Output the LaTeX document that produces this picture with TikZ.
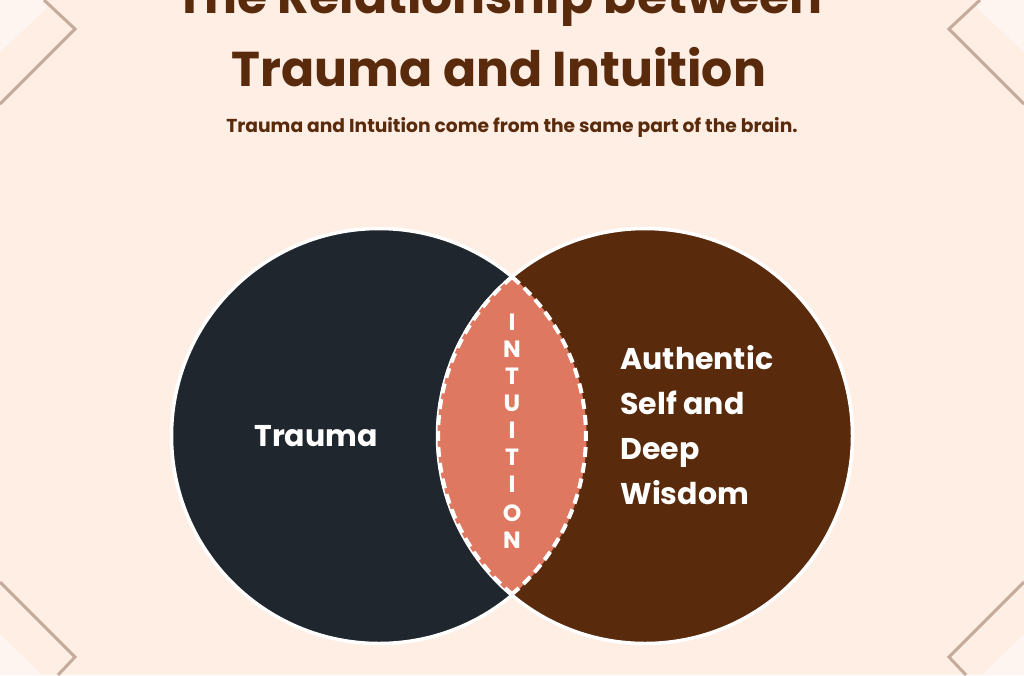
\documentclass[tikz,border=0pt]{standalone}
\usepackage{fontspec}
\setmainfont{Poppins}
\usetikzlibrary{calc}
\definecolor{pagebg}{HTML}{FFEEE4}
\definecolor{cornerline}{HTML}{C4AB9C}
\definecolor{cornerfill}{HTML}{FFF5F0}
\definecolor{traumacol}{HTML}{1F262E}
\definecolor{selfcol}{HTML}{592A0C}
\definecolor{lenscol}{HTML}{DF7861}
\tikzset{
	bigcircle/.style={circle,draw=white,line width=3.5pt,minimum size=415pt,inner sep=0pt},
	titletext/.style={text=selfcol,font=\bfseries\fontsize{48.9}{73}\selectfont,align=center},
	subtext/.style={text=selfcol,font=\bfseries\fontsize{18.7}{22}\selectfont},
	circletext/.style={text=white,font=\bfseries\fontsize{30}{45}\selectfont,align=left},
	lensletter/.style={text=white,font=\bfseries\fontsize{23.5}{24}\selectfont,inner sep=0pt},
	cornerstroke/.style={draw=cornerline,line width=3pt,miter limit=10},
	lensdash/.style={white,line width=4pt,dash pattern=on 10pt off 6pt},
}
\begin{document}
\begin{tikzpicture}[x=1pt,y=-1pt]
		\useasboundingbox (0,0) rectangle (1024,675);
		\fill[pagebg] (0,0) rectangle (1024,675);
		% corners
		\fill[cornerfill] (0,0) -- (43,0) -- (48,7) -- (0,52) -- cycle;
		\fill[cornerfill] (1024,0) -- (981,0) -- (976,7) -- (1024,52) -- cycle;
		\fill[cornerfill] (0,675) -- (42,675) -- (0,634) -- cycle;
		\fill[cornerfill] (1024,675) -- (982,675) -- (1024,634) -- cycle;
		\draw[cornerstroke] (44,0) -- (75,29) -- (0,104);
		\draw[cornerstroke] (980,0) -- (949,29) -- (1024,104);
		\draw[cornerstroke] (0,582) -- (75,657) -- (58,675);
		\draw[cornerstroke] (1024,582) -- (949,657) -- (966,675);
		% texts on top
		\node[titletext] (title) at (499,31) {The Relationship between\\Trauma and Intuition};
		\node[subtext] (sub) at (512,127) {Trauma and Intuition come from the same part of the brain.};
		% circles
		\node[bigcircle,fill=traumacol] (trauma) at (379,436) {};
		\node[bigcircle,fill=selfcol] (self) at (645,436) {};
		\begin{scope}
			\clip (trauma.center) circle[radius=207.5];
			\fill[lenscol] (self.center) circle[radius=207.5];
		\end{scope}
		\draw[lensdash] (512,277) arc[start angle=230,end angle=130,radius=207];
		\draw[lensdash] (512,277) arc[start angle=-50,end angle=50,radius=207];
		\node[circletext] (traumalabel) at (316,436) {Trauma};
		\node[circletext,anchor=west] (selflabel) at (617,425) {Authentic\\Self and\\Deep\\Wisdom};
		\foreach \ch/\ypos in {I/322,N/349,T/376,U/403,I/430,T/457,I/484,O/513,N/540}
			\node[lensletter] (letter\ypos) at (512,\ypos) {\ch};
	\end{tikzpicture}
\end{document}
